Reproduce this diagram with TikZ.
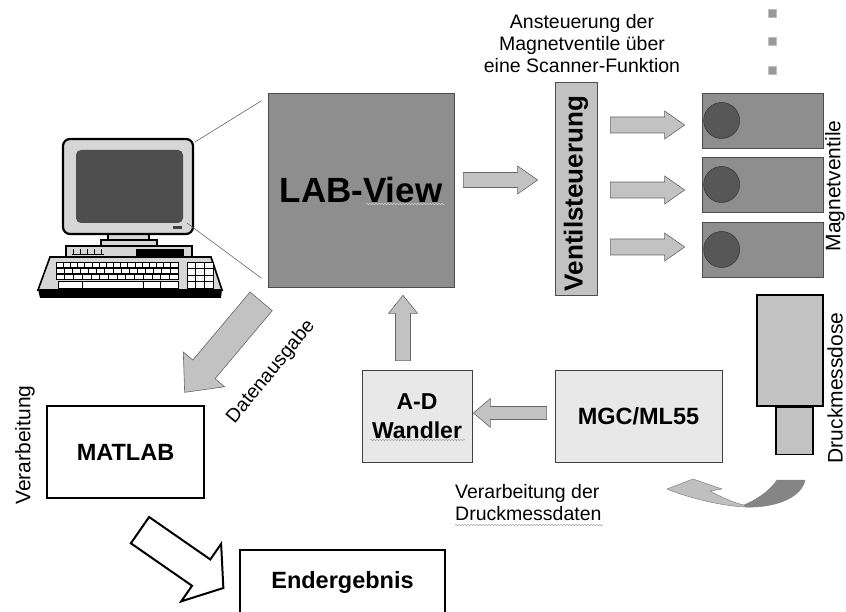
\documentclass[tikz,border=0pt]{standalone}
\usepackage{fontspec}
\setmainfont{Liberation Sans}
\usetikzlibrary{calc,decorations.pathmorphing}

\definecolor{darkfill}{HTML}{8E8E8E}
\definecolor{midfill}{HTML}{C2C2C2}
\definecolor{lightfill}{HTML}{E8E8E8}
\definecolor{knob}{HTML}{575757}
\definecolor{pcgray}{HTML}{D6D6D6}

\tikzset{
  lvbox/.style={draw=black!70, line width=0.7pt, fill=darkfill, inner sep=0pt},
  greybox/.style={draw=black!75, line width=0.8pt, fill=lightfill, inner sep=0pt,
    font=\bfseries\fontsize{23}{29}\selectfont},
  whitebox/.style={draw=black, line width=1.3pt, fill=white, inner sep=0pt,
    font=\bfseries\fontsize{23.5}{28}\selectfont},
  blockarrow/.style={draw=black!60, fill=midfill, line width=0.6pt, line join=miter},
  pcpart/.style={draw=black, fill=pcgray, line width=1.4pt},
  keyline/.style={draw=black, line width=0.7pt},
  note/.style={inner sep=0pt, font=\fontsize{19.5}{22}\selectfont},
  sidenote/.style={inner sep=0pt, rotate=90, font=\fontsize{21}{24}\selectfont},
  squiggle/.style={decorate, decoration={snake, amplitude=0.7pt, segment length=3pt},
    line width=0.5pt},
  ribbon/.style={draw=black!50, line width=0.5pt, line join=round},
}

% block arrow between two named coordinates:
% [style]{tail}{tip}{half shaft}{half head}{head length}
\newcommand{\blockarrow}[6][]{%
  \path ($(#3)!#6!(#2)$) coordinate (ab);
  \draw[blockarrow,#1] ($(#2)!#4!90:(#3)$) -- ($(ab)!#4!90:(#3)$)
    -- ($(ab)!#5!90:(#3)$) -- (#3) -- ($(ab)!#5!-90:(#3)$)
    -- ($(ab)!#4!-90:(#3)$) -- ($(#2)!#4!-90:(#3)$) -- cycle;
}

\begin{document}
\begin{tikzpicture}[x=1pt,y=-1pt]
\useasboundingbox (0,0) rectangle (846,612);
\clip (0,0) rectangle (846,612);

% computer
\draw[pcpart] (108,233) rectangle (149,240);
\draw[pcpart] (101,240) rectangle (157,246);
\node[pcpart, line width=2.2pt, rounded corners=7pt, minimum width=130pt,
  minimum height=95pt] (monitor) at (128,186.5) {};
\fill[knob!90!black, rounded corners=5pt] (76,150) rectangle (183,223);
\fill[black!75] (173,226) rectangle (182,229);
\draw[pcpart] (66,246) rectangle (192,257);
\foreach \i in {0,...,4}
  \draw[keyline] ({73+7*\i},249.5) -- ({73+7*\i},254);
\draw[keyline] (72,254) -- (104,254);
\fill (136,249) rectangle (184,257);
% keyboard
\fill (38,289) -- (222,289) -- (221,298) -- (40,298) -- cycle;
\draw[pcpart, line width=1.6pt] (50,257) -- (211,257) -- (222,290) -- (38,290) -- cycle;
\foreach \row/\n in {0/17,1/15,2/14}{
  \draw[keyline, fill=white] (56,{262+6*\row}) rectangle (178,{267.5+6*\row});
  \foreach \k in {1,...,\n}
    \draw[keyline] ({56+\k*122/\n},{262+6*\row}) -- ({56+\k*122/\n},{267.5+6*\row});
}
\draw[keyline, fill=white] (58,281) rectangle (178,288.5);
\foreach \x in {82,143,160} \draw[keyline] (\x,281) -- (\x,288.5);
\draw[keyline, fill=white] (187,262) rectangle (213,288.5);
\foreach \x in {195.7,204.3} \draw[keyline] (\x,262) -- (\x,288.5);
\foreach \y in {268.5,275,281.5} \draw[keyline] (187,\y) -- (213,\y);

% main blocks
\node[lvbox, minimum width=186pt, minimum height=194pt,
  font=\bfseries\fontsize{35}{40}\selectfont] (labview) at (361,190) {LAB-View};
\draw[black!60, line width=0.6pt] ($(monitor.north east)+(1,4)$) -- ($(labview.north west)+(-6,8)$);
\draw[black!60, line width=0.6pt] ($(monitor.south east)+(-7,-12)$) -- ($(labview.south west)+(-6,-9)$);

\node[lvbox, fill=midfill, minimum width=42pt, minimum height=213pt] (ventil) at (576,188.5) {};
\node[rotate=90, inner sep=0pt, font=\bfseries\fontsize{26}{30}\selectfont]
  (ventiltext) at ($(ventil)+(0,5)$) {Ventilsteuerung};

\foreach \y [count=\i] in {13.5,41,70}
  \node[draw=black!25, line width=0.8pt, fill=black!40, minimum size=8pt, inner sep=0pt]
    (sq\i) at (772,\y) {};

\foreach \n/\y in {1/120.5,2/184.5,3/249.5}{
  \node[lvbox, minimum width=121pt, minimum height=55pt] (v\n) at (762.5,\y) {};
  \filldraw[fill=knob, draw=black!80, line width=0.5pt] ($(v\n.west)+(20,0)$) circle[radius=18];
}

\node[pcpart, fill=midfill, line width=1.5pt, minimum width=66pt, minimum height=111pt] (dose) at (790,350.5) {};
\node[pcpart, fill=midfill, line width=1.5pt, minimum width=37pt, minimum height=47pt,
  anchor=north] (dosefoot) at ($(dose.south)+(4.5,0)$) {};

\node[greybox, minimum width=167pt, minimum height=92pt,
  font=\bfseries\fontsize{23.5}{28}\selectfont] (mgc) at (638.5,416) {MGC/ML55};
\node[greybox, minimum width=110pt, minimum height=92pt, align=center] (ad) at (417,416) {A-D\\Wandler};
\node[whitebox, minimum width=157pt, minimum height=92pt] (matlab) at (125.5,452) {MATLAB};
\node[whitebox, minimum width=205pt, minimum height=64pt] (result) at (342.5,582) {Endergebnis};

% block arrows
\coordinate (lv-out) at ($(labview.east)+(9,-10)$);
\coordinate (ventil-in) at ($(ventil.west |- lv-out)+(-17,0)$);
\blockarrow{lv-out}{ventil-in}{7.5pt}{14pt}{20pt}
\foreach \n/\dy in {1/4.5,2/5.5,3/-2.5}{
  \coordinate (s\n) at ($(ventil.east |- v\n)+(13,\dy)$);
  \coordinate (e\n) at ($(v\n.west)+(-17,\dy)$);
  \blockarrow{s\n}{e\n}{8pt}{14pt}{20pt}
}
\coordinate (mgc-out) at ($(mgc.west)+(-8,-3)$);
\coordinate (ad-in) at ($(ad.east)+(1,-3)$);
\blockarrow{mgc-out}{ad-in}{6.5pt}{14.5pt}{17pt}
\coordinate (ad-out) at ($(ad.north)+(-14,-9)$);
\coordinate (lv-in) at ($(labview.south -| ad-out)+(0,8)$);
\blockarrow{ad-out}{lv-in}{7.5pt}{14.5pt}{18pt}
\coordinate (out-tail) at ($(labview.south west)+(-6.5,14)$);
\coordinate (out-tip) at ($(matlab.north east)+(-20,-13)$);
\blockarrow{out-tail}{out-tip}{14.5pt}{27pt}{30pt}
\coordinate (res-tail) at ($(matlab.south)+(14.5,31.5)$);
\coordinate (res-tip) at ($(result.west)+(-16,6)$);
\blockarrow[fill=white, draw=black, line width=2pt]{res-tail}{res-tip}{16pt}{35pt}{27pt}

% twisted ribbon arrow under the sensor: dark back half, light front half
\filldraw[ribbon, fill=black!48] (777,480) -- (805,480)
  .. controls (801,500) and (770,508) .. (746,507) -- (744,505)
  .. controls (756,500) and (770,491) .. (777,480) -- cycle;
\filldraw[ribbon, fill=black!25] (746,507)
  .. controls (720,506) and (686,497) .. (667,489) -- (693,479) -- (722,489)
  -- (710,491) .. controls (721,497) and (734,503) .. (744,505) -- cycle;

% labels
\node[note, align=center, anchor=north] (scan) at (582,14)
  {Ansteuerung der\\Magnetventile über\\eine Scanner-Funktion};
\node[note, align=left, anchor=north west] (druckdaten) at (455,484)
  {Verarbeitung der\\Druckmessdaten};
\node[note, rotate=50.6] (ausgabe) at (271,372) {Datenausgabe};
\node[sidenote] (ventile) at (835,186) {Magnetventile};
\node[sidenote] (dosename) at (835,388) {Druckmessdose};
\node[sidenote] (verarb) at (25,445) {Verarbeitung};

% spell-check squiggles
\draw[squiggle, white!80!black] (366,204) -- (445,204);
\draw[squiggle, black!35] (370,440) -- (465,440);
\draw[squiggle, black!35] (455,525) -- (603,525);
\end{tikzpicture}
\end{document}
